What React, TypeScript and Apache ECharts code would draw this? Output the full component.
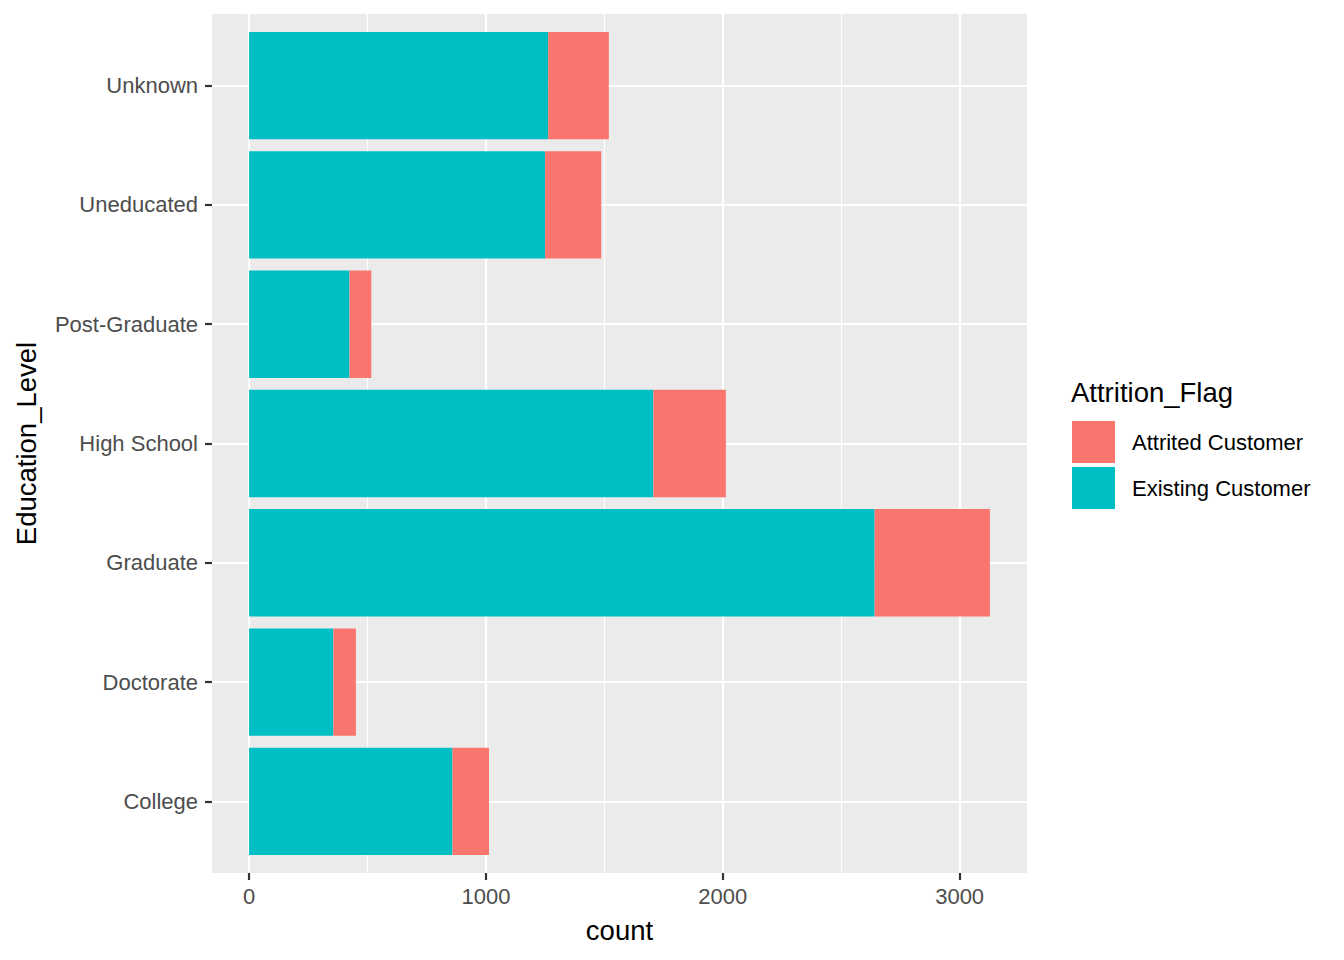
import React, { useEffect, useRef } from "react";
import * as echarts from "echarts";

const categories = ["College", "Doctorate", "Graduate", "High School", "Post-Graduate", "Uneducated", "Unknown"];
const existing = [859, 356, 2641, 1707, 424, 1250, 1263];
const attrited = [154, 95, 487, 306, 92, 237, 256];
const majorTicks = [0, 1000, 2000, 3000];
const minorTicks = [500, 1500, 2500];
const seriesNames = ["Attrited Customer", "Existing Customer"];

const FONT = "'Liberation Sans', Arial, sans-serif";

export default function App() {
  const ref = useRef<HTMLDivElement>(null);
  useEffect(() => {
    document.body.style.margin = "0";
    if (!ref.current) return;
    const chart = echarts.init(ref.current, undefined, { renderer: "svg" });

    const totals = existing.map((v, i) => v + attrited[i]);
    const maxT = Math.max(...totals);
    const xMin = -0.05 * maxT;
    const xMax = maxT * 1.05;

    const panelLeft = 212;
    const panelTop = 14;
    const panelW = 815;
    const panelH = 859;
    const unit = panelH / (categories.length - 1 + 1.2);

    const gridLineColor = "#FFFFFF";

    chart.setOption({
      animation: false,
      textStyle: { fontFamily: FONT },
      title: {
        text: "Attrition_Flag",
        left: 1071,
        top: 378,
        padding: 0,
        textStyle: { fontSize: 27.5, fontWeight: "normal", color: "#000000", fontFamily: FONT, lineHeight: 28 },
      },
      legend: {
        data: seriesNames,
        orient: "vertical",
        left: 1072,
        top: 421,
        padding: 0,
        itemWidth: 43,
        itemHeight: 42,
        itemGap: 4,
        icon: "rect",
        textStyle: { fontSize: 22, color: "#000000", fontFamily: FONT, padding: [0, 0, 0, 12] },
      },
      grid: [
        {
          left: panelLeft,
          top: panelTop,
          width: panelW,
          height: panelH,
          show: true,
          backgroundColor: "#EBEBEB",
          borderWidth: 0,
        },
        {
          left: panelLeft,
          top: panelTop + 0.6 * unit,
          width: panelW,
          height: (categories.length - 1) * unit,
          show: false,
        },
      ],
      xAxis: [
        {
          type: "value",
          gridIndex: 0,
          min: xMin,
          max: xMax,
          name: "count",
          nameLocation: "middle",
          nameGap: 43,
          nameTextStyle: { fontSize: 27.5, color: "#000000", fontFamily: FONT },
          axisLine: { show: false, onZero: false },
          axisTick: { show: true, length: 7, customValues: majorTicks, lineStyle: { color: "#333333", width: 2.2 } },
          axisLabel: {
            show: true,
            customValues: majorTicks,
            fontSize: 22,
            color: "#4D4D4D",
            margin: 12,
            fontFamily: FONT,
            formatter: (v: number) => String(v),
          },
          splitLine: { show: true, lineStyle: { color: gridLineColor, width: 2.2 } },
          z: 1,
        },
        {
          type: "value",
          gridIndex: 0,
          min: xMin,
          max: xMax,
          axisLine: { show: false, onZero: false },
          axisTick: { show: false, customValues: minorTicks },
          axisLabel: { show: false, customValues: minorTicks },
          splitLine: { show: true, lineStyle: { color: gridLineColor, width: 1.1 } },
          z: 0,
        },
        {
          type: "value",
          gridIndex: 1,
          min: xMin,
          max: xMax,
          show: false,
          axisLine: { onZero: false },
          splitLine: { show: false },
        },
      ],
      yAxis: [
        {
          type: "value",
          gridIndex: 0,
          min: 0,
          max: 1,
          show: false,
          axisLine: { onZero: false },
          splitLine: { show: false },
        },
        {
          type: "category",
          gridIndex: 1,
          data: categories,
          boundaryGap: false,
          name: "Education_Level",
          nameLocation: "middle",
          nameRotate: 90,
          nameGap: 172,
          nameTextStyle: { fontSize: 27.5, color: "#000000", fontFamily: FONT },
          axisLine: { show: false, onZero: false },
          axisTick: { show: true, length: 7, alignWithLabel: true, lineStyle: { color: "#333333", width: 2.2 } },
          axisLabel: { fontSize: 22, color: "#4D4D4D", margin: 14, fontFamily: FONT, padding: [4, 0, 0, 0] },
          splitLine: { show: true, lineStyle: { color: gridLineColor, width: 2.2 } },
        },
      ],
      series: [
        {
          name: "Existing Customer",
          type: "bar",
          xAxisIndex: 2,
          yAxisIndex: 1,
          stack: "total",
          barWidth: "90%",
          clip: false,
          itemStyle: { color: "#00BFC4" },
          data: existing,
        },
        {
          name: "Attrited Customer",
          type: "bar",
          xAxisIndex: 2,
          yAxisIndex: 1,
          stack: "total",
          barWidth: "90%",
          clip: false,
          itemStyle: { color: "#F8766D" },
          data: attrited,
        },
      ],
    });
    return () => chart.dispose();
  }, []);
  return <div ref={ref} style={{ position: "absolute", left: 0, top: 0, width: 1344, height: 960 }} />;
}
